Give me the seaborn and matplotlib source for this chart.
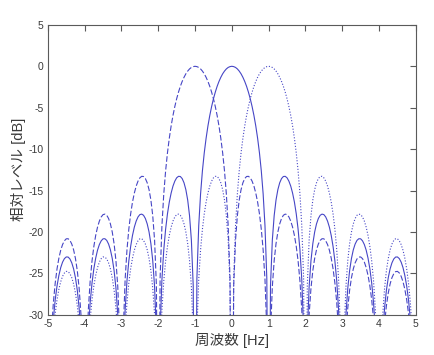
import numpy as np
import pandas as pd
import matplotlib
matplotlib.use("Agg")
import matplotlib.pyplot as plt
import seaborn as sns

# ---- data ----
# relative level [dB] of one spectrum vs. frequency offset from its centre,
# offsets 0.00, 0.05, ... 6.00 Hz (nulls shown as -60, i.e. far below the axis floor)
offset_step_hz = 0.05
level_profile_db = [
    0.00, -0.04, -0.14, -0.32, -0.58, -0.91, -1.33, -1.83, -2.42, -3.12,
    -3.92, -4.86, -5.94, -7.20, -8.69, -10.45, -12.62, -15.39, -19.23, -25.61,
    -60.0,
    -26.48, -20.97, -18.02, -16.14, -14.89, -14.06, -13.55, -13.30, -13.28, -13.46,
    -13.86, -14.46, -15.30, -16.39, -17.81, -19.66, -22.15, -25.72, -31.86,
    -60.0,
    -32.29, -26.59, -23.45, -21.41, -20.00, -19.02, -18.37, -17.98, -17.84, -17.90,
    -18.18, -18.68, -19.41, -20.41, -21.74, -23.50, -25.90, -29.39, -35.45,
    -60.0,
    -35.74, -29.97, -26.77, -24.66, -23.19, -22.15, -21.45, -21.01, -20.81, -20.82,
    -21.06, -21.51, -22.19, -23.15, -24.43, -26.16, -28.51, -31.97, -37.99,
    -60.0,
    -38.21, -32.40, -29.16, -27.02, -25.52, -24.45, -23.72, -23.25, -23.02, -23.01,
    -23.21, -23.63, -24.29, -25.23, -26.49, -28.18, -30.52, -33.95, -39.95,
    -60.0,
    -40.12, -34.30, -31.04, -28.88, -27.36, -26.27, -25.51, -25.03, -24.78, -24.75,
    -24.94, -25.34, -25.99, -26.90, -28.15, -29.83, -32.15, -35.56, -41.55,
    -60.0,
]
centers_hz = [-1.0, 0.0, 1.0]
series_names = ["-1 Hz", "0 Hz", "+1 Hz"]
x_ticks = [-5, -4, -3, -2, -1, 0, 1, 2, 3, 4, 5]
y_ticks = [5, 0, -5, -10, -15, -20, -25, -30]
x_label = "周波数 [Hz]"
y_label = "相対レベル [dB]"

# ---- build table ----
offsets = np.round(np.arange(len(level_profile_db)) * offset_step_hz, 2)
prof = np.array(level_profile_db)
full_off = np.concatenate([-offsets[:0:-1], offsets])
full_lvl = np.concatenate([prof[:0:-1], prof])
frames = []
for name, c in zip(series_names, centers_hz):
    frames.append(pd.DataFrame({"freq": full_off + c, "level": full_lvl, "series": name}))
df = pd.concat(frames, ignore_index=True)

# ---- style ----
sns.set_theme(style="white")
plt.rcParams["font.family"] = ["Liberation Sans", "Noto Sans CJK JP", "DejaVu Sans"]

fig = plt.figure(figsize=(4.35, 3.55), dpi=100)
ax = fig.add_axes([0.110, 0.113, 0.846, 0.817])

line_color = "#4646c6"
sns.lineplot(
    data=df, x="freq", y="level", style="series", style_order=series_names,
    dashes={"-1 Hz": (5, 2), "0 Hz": "", "+1 Hz": (1, 1.6)},
    color=line_color, linewidth=0.8, estimator=None, sort=False,
    legend=False, ax=ax,
)

ax.set_xlim(-5, 5)
ax.set_ylim(-30, 5)
ax.set_xticks(x_ticks)
ax.set_yticks(y_ticks)
ax.set_xticklabels([str(t) for t in x_ticks])
ax.set_yticklabels([str(t) for t in y_ticks])

for sp in ax.spines.values():
    sp.set_visible(True)
    sp.set_color("#5a5a5a")
    sp.set_linewidth(0.8)
ax.tick_params(direction="in", length=4, width=0.8, color="#5a5a5a",
               top=True, right=True, labelsize=7.5, labelcolor="#3a3a3a", pad=3)
ax.set_xlabel(x_label, fontsize=10.5, color="#3a3a3a", labelpad=3)
ax.set_ylabel(y_label, fontsize=10.5, color="#3a3a3a", labelpad=2)
ax.grid(False)

fig.savefig("out.png", dpi=100)
